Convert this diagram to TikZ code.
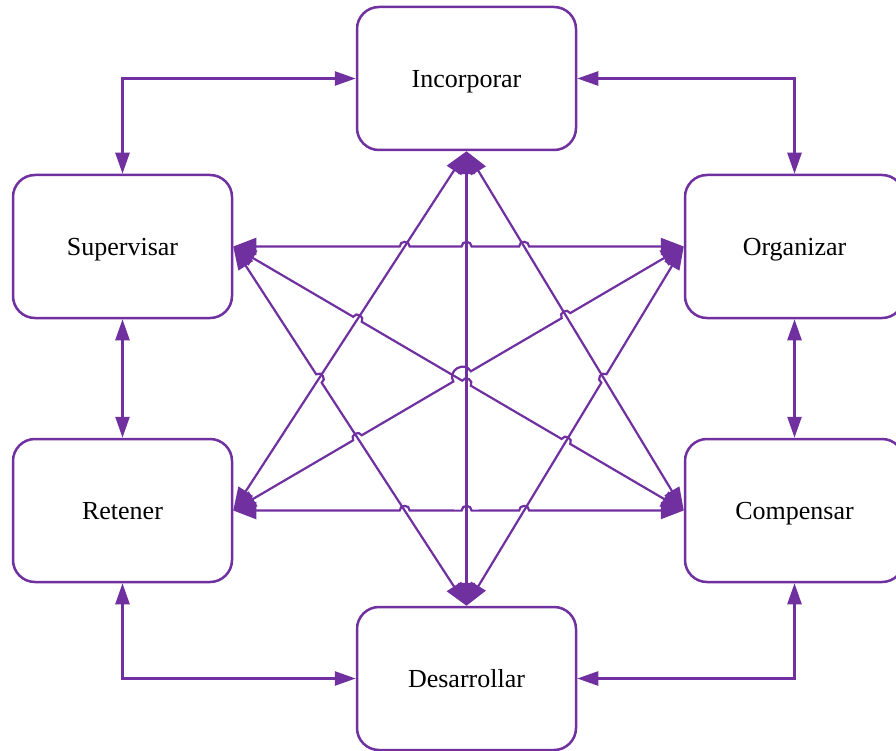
\documentclass[tikz,border=0pt]{standalone}
\usepackage{fontspec}
\setmainfont{Liberation Serif}
\usetikzlibrary{arrows.meta,calc}
\definecolor{violeta}{HTML}{7030A0}
\tikzset{
  caja/.style={draw=violeta, line width=2.5pt, rounded corners=22pt,
    minimum width=219pt, minimum height=143pt, inner sep=0pt, text depth=0pt,
    font=\fontsize{26}{30}\selectfont, text=black},
  flecha/.style={draw=violeta, line width=2.5pt,
    {Triangle[length=21pt,width=14pt]}-{Triangle[length=21pt,width=14pt]}},
  enlace/.style={draw=violeta, line width=2.2pt,
    {Triangle[length=23pt,width=17pt]}-{Triangle[length=23pt,width=17pt]}},
  salto/.style={bend left=90, looseness=1.6},
  saltod/.style={bend right=90, looseness=1.6}
}
\begin{document}
\begin{tikzpicture}[x=1pt,y=-1pt]
  \useasboundingbox (0,0) rectangle (896,751);
  % the six process boxes
  \node[caja] (inc) at (466.5,78.5) {Incorporar};
  \node[caja] (sup) at (122.5,246.5) {Supervisar};
  \node[caja] (org) at (794.5,246.5) {Organizar};
  \node[caja] (ret) at (122.5,510.5) {Retener};
  \node[caja] (com) at (794.5,510.5) {Compensar};
  \node[caja] (des) at (466.5,678.5) {Desarrollar};
  % outer ring
  \draw[flecha] (inc.west) -| (sup.north);
  \draw[flecha] (inc.east) -| (org.north);
  \draw[flecha] (sup.south) -- (ret.north);
  \draw[flecha] (org.south) -- (com.north);
  \draw[flecha] (ret.south) |- (des.west);
  \draw[flecha] (com.south) |- (des.east);
  % crossing points of the inner links
  \coordinate (c1) at (intersection of sup.east--org.west and inc.south--ret.east);
  \coordinate (c2) at (intersection of sup.east--org.west and inc.south--des.north);
  \coordinate (c3) at (intersection of sup.east--org.west and inc.south--com.west);
  \coordinate (c4) at (intersection of ret.east--com.west and des.north--sup.east);
  \coordinate (c5) at (intersection of ret.east--com.west and inc.south--des.north);
  \coordinate (c6) at (intersection of ret.east--com.west and des.north--org.west);
  \coordinate (c7) at (intersection of sup.east--com.west and inc.south--ret.east);
  \coordinate (c8) at (intersection of sup.east--com.west and inc.south--des.north);
  \coordinate (c9) at (intersection of sup.east--com.west and des.north--org.west);
  \coordinate (c10) at (intersection of ret.east--org.west and des.north--sup.east);
  \coordinate (c11) at (intersection of ret.east--org.west and inc.south--com.west);
  \coordinate (c12) at (intersection of ret.east--org.west and sup.east--com.west);
  \coordinate (c13) at (intersection of ret.east--org.west and inc.south--des.north);
  \coordinate (c14) at (intersection of des.north--sup.east and inc.south--ret.east);
  \coordinate (c15) at (intersection of des.north--org.west and inc.south--com.west);
  % inner links, hopping over the lines they cross
  \draw[enlace] (sup.east)
    -- ($(c1)!5pt!(sup.east)$) to[salto] ($(c1)!5pt!(org.west)$)
    -- ($(c2)!5pt!(sup.east)$) to[salto] ($(c2)!5pt!(org.west)$)
    -- ($(c3)!5pt!(sup.east)$) to[salto] ($(c3)!5pt!(org.west)$)
    -- (org.west);
  \draw[enlace] (ret.east)
    -- ($(c4)!5pt!(ret.east)$) to[salto] ($(c4)!5pt!(com.west)$)
    -- ($(c5)!5pt!(ret.east)$) to[salto] ($(c5)!5pt!(com.west)$)
    -- ($(c6)!5pt!(ret.east)$) to[salto] ($(c6)!5pt!(com.west)$)
    -- (com.west);
  \draw[enlace] (inc.south) -- (des.north);
  \draw[enlace] (inc.south) -- (ret.east);
  \draw[enlace] (inc.south) -- (com.west);
  \draw[enlace] (des.north)
    -- ($(c14)!5pt!(des.north)$) to[saltod] ($(c14)!5pt!(sup.east)$)
    -- (sup.east);
  \draw[enlace] (des.north)
    -- ($(c15)!5pt!(des.north)$) to[salto] ($(c15)!5pt!(org.west)$)
    -- (org.west);
  \draw[enlace] (sup.east)
    -- ($(c7)!5pt!(sup.east)$) to[salto] ($(c7)!5pt!(com.west)$)
    -- ($(c8)!5pt!(sup.east)$) to[salto] ($(c8)!5pt!(com.west)$)
    -- ($(c9)!5pt!(sup.east)$) to[salto] ($(c9)!5pt!(com.west)$)
    -- (com.west);
  \draw[enlace] (ret.east)
    -- ($(c10)!5pt!(ret.east)$) to[salto] ($(c10)!5pt!(org.west)$)
    -- ($(c12)!6pt!(ret.east)$) to[salto] ($(c13)!5pt!(org.west)$)
    -- ($(c11)!5pt!(ret.east)$) to[salto] ($(c11)!5pt!(org.west)$)
    -- (org.west);
\end{tikzpicture}
\end{document}
